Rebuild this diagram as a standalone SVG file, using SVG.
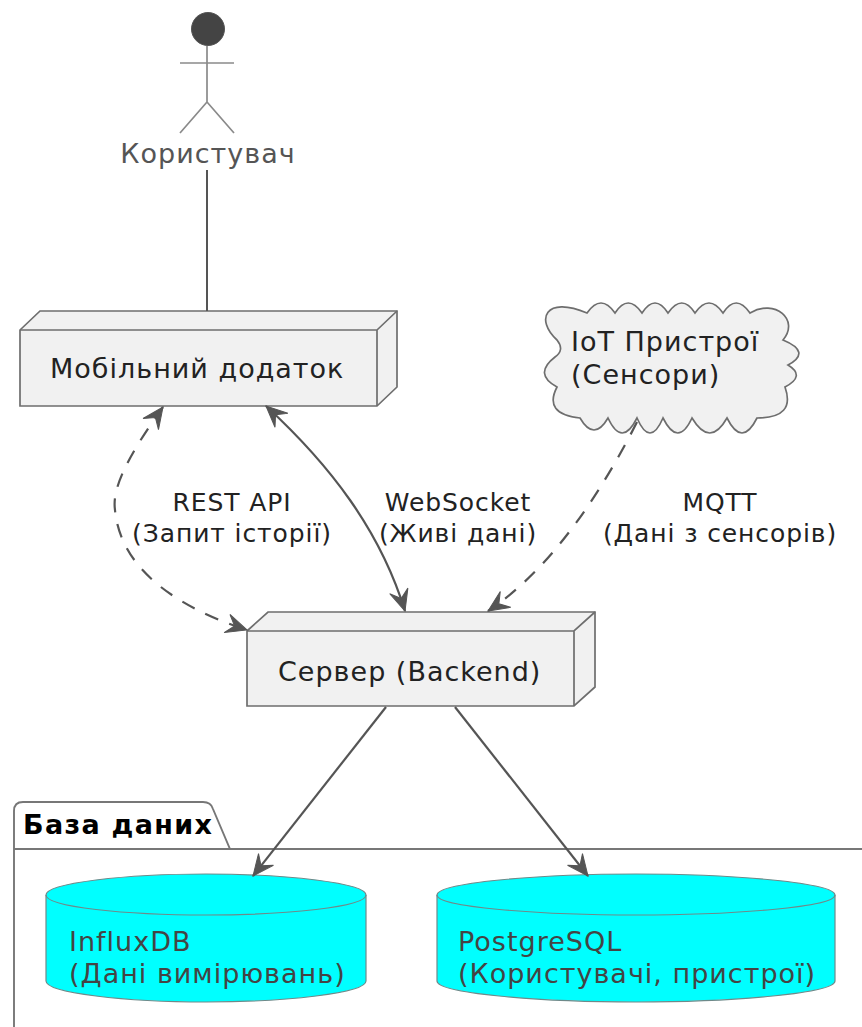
<svg xmlns="http://www.w3.org/2000/svg" width="862" height="1027" viewBox="0 0 862 1027">
<defs>
<marker id="arrow" viewBox="0 0 24 22" refX="22" refY="11" markerWidth="24" markerHeight="22" markerUnits="userSpaceOnUse" orient="auto-start-reverse">
<path d="M1 1.500L22 11L1 20.500L9 11Z" fill="#555" stroke="#555" stroke-width="1"/>
</marker>
</defs>
<style>
text{font-family:"DejaVu Sans",sans-serif;letter-spacing:1px;}
.n{fill:#f1f1f1;stroke:#6e6e6e;stroke-width:1.7;}
.t{font-size:27px;fill:#222;}
.e{font-size:25px;fill:#222;text-anchor:middle;letter-spacing:.9px;}
.d{font-size:27px;fill:#444;}
.c{fill:none;stroke:#555;stroke-width:2.2;marker-end:url(#arrow);}
.db{fill:#00ffff;stroke:#6e8a8a;stroke-width:1.2;}
</style>
<g id="pkg-database">
<path d="M14 1027V811Q14 802 23 802H203Q211 802 213 809L230 849H862M14 849H230" fill="#fff" stroke="#777" stroke-width="1.9"/>
<text x="23" y="834" style="font-size:27px;font-weight:bold;fill:#000;letter-spacing:1.300px">База даних</text>
</g>
<g id="influxdb">
<path class="db" d="M46 895C46 883 126 874 206 874S366 883 366 895V981C366 993 286 1002 206 1002S46 993 46 981Z"/>
<path class="db" d="M46 895C46 907 126 915 206 915S366 907 366 895" style="fill:none"/>
<text class="d" x="69" y="951">InfluxDB</text>
<text class="d" x="69" y="983">(Дані вимірювань)</text>
</g>
<g id="postgresql">
<path class="db" d="M437 895C437 883 537 874 636 874S835 883 835 895V981C835 993 736 1002 636 1002S437 993 437 981Z"/>
<path class="db" d="M437 895C437 907 537 915 636 915S835 907 835 895" style="fill:none"/>
<text class="d" x="458" y="951">PostgreSQL</text>
<text class="d" x="458" y="983">(Користувачі, пристрої)</text>
</g>
<g id="actor">
<circle cx="208" cy="29" r="16.5" fill="#444" stroke="#555" stroke-width="1"/>
<path d="M207 46V102M180 63H234M207 102L180 133M207 102L234 133" fill="none" stroke="#8a8a8a" stroke-width="1.7"/>
<text x="208" y="163" text-anchor="middle" style="font-size:27px;fill:#555">Користувач</text>
</g>
<g id="mobile-app">
<path class="n" d="M20 330L40 311H397V387L377 406H20Z"/>
<path class="n" d="M20 330H377L397 311M377 330V406" style="fill:none"/>
<text class="t" x="50" y="378">Мобільний додаток</text>
</g>
<g id="iot">
<path class="n" d="M587 313Q601 293 615 313Q628 293 642 313Q655 293 668 313Q682 293 695 313Q709 293 723 313Q736 293 750 313C775 298 800 320 783 340Q812 352 788 365Q806 376 785 387Q796 418 757 418Q742 448 727 418Q710 448 692 418Q678 448 663 418Q650 448 637 418Q622 448 608 418Q594 442 580 418Q543 414 557 387Q533 374 555 357Q565 350 557 340C535 320 545 295 587 313Z"/>
<text class="t" x="571" y="351">IoT Пристрої</text>
<text class="t" x="571" y="384">(Сенсори)</text>
</g>
<g id="server">
<path class="n" d="M247 631L268 612H595V687L574 706H247Z"/>
<path class="n" d="M247 631H574L595 612M574 631V706" style="fill:none"/>
<text class="t" x="278" y="681">Сервер (Backend)</text>
</g>
<g id="connectors">
<path d="M207 170V311" fill="none" stroke="#555" stroke-width="2"/>
<path class="c" d="M163 407C125 460 112 490 115 510C120 565 170 605 247 630" stroke-dasharray="14 12" style="marker-start:url(#arrow)"/>
<path class="c" d="M266 406C330 465 380 530 405 611" style="marker-start:url(#arrow)"/>
<path class="c" d="M637 422C600 495 550 570 488 611" stroke-dasharray="14 12"/>
<path class="c" d="M386 707L253 876"/>
<path class="c" d="M455 707L588 876"/>
<text class="e" x="232" y="511">REST API</text>
<text class="e" x="232" y="542">(Запит історії)</text>
<text class="e" x="458" y="511">WebSocket</text>
<text class="e" x="458" y="542">(Живі дані)</text>
<text class="e" x="720" y="511">MQTT</text>
<text class="e" x="720" y="542">(Дані з сенсорів)</text>
</g>
</svg>
